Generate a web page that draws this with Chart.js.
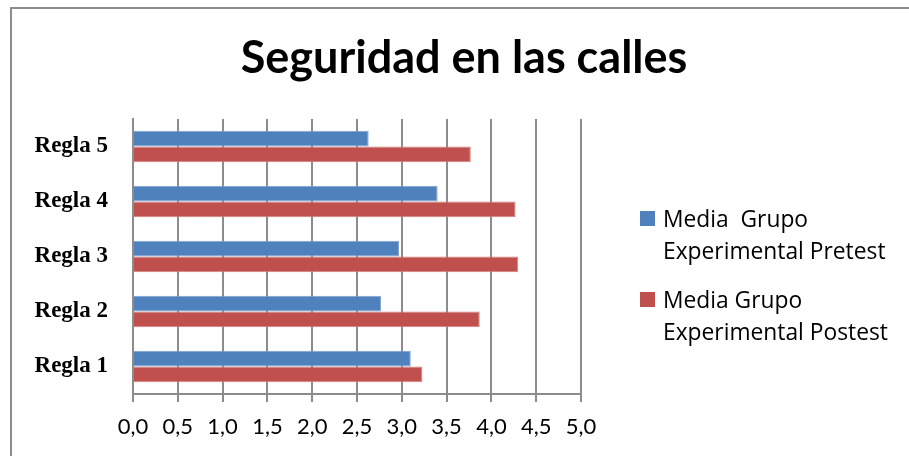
<!DOCTYPE html>
<html>
<head>
<meta charset="utf-8">
<script src="https://cdn.jsdelivr.net/npm/chart.js@4/dist/chart.umd.min.js"></script>
<style>
    body { margin: 0; background: #fff; }
    #wrap { position: relative; width: 909px; height: 456px; overflow: hidden; }
    #frame { position: absolute; left: 10px; top: 7px; width: 1000px; height: 1000px;
             border-left: 2px solid #8c8c8c; border-top: 2px solid #8c8c8c; }
    canvas { position: absolute; left: 0; top: 0; }
</style>
</head>
<body>
<div id="wrap">
    <div id="frame"></div>
    <canvas id="chart" width="909" height="456"></canvas>
</div>
<script>
// Données du graphique
const categories = ['Regla 5', 'Regla 4', 'Regla 3', 'Regla 2', 'Regla 1'];
const pretest = [2.63, 3.40, 2.97, 2.77, 3.10];
const postest = [3.77, 4.27, 4.30, 3.87, 3.23];
const legendLines = [
    ['Media  Grupo', 'Experimental Pretest'],
    ['Media Grupo', 'Experimental Postest']
];
const xTicks = [0, 0.5, 1, 1.5, 2, 2.5, 3, 3.5, 4, 4.5, 5];

const gridColor = '#8c8c8c';

// Légende sur deux lignes, dessinée à droite
const sideLegend = {
    id: 'sideLegend',
    afterDraw(chart) {
        const ctx = chart.ctx;
        ctx.save();
        ctx.font = '22.8px "Open Sans"';
        ctx.textBaseline = 'alphabetic';
        chart.data.datasets.forEach((ds, i) => {
            const top = 211 + i * 81;
            ctx.fillStyle = ds.backgroundColor;
            ctx.fillRect(640, top, 15, 15);
            ctx.fillStyle = '#000';
            legendLines[i].forEach((line, j) => {
                ctx.fillText(line, 663, top + 16 + j * 32);
            });
        });
        ctx.restore();
    }
};

new Chart(document.getElementById('chart'), {
    type: 'bar',
    data: {
        labels: categories,
        datasets: [
            {
                label: legendLines[0].join(' '),
                data: pretest,
                backgroundColor: '#4F81BD',
                borderColor: '#7fa3d2',
                borderWidth: 1,
                categoryPercentage: 0.57,
                barPercentage: 1.0
            },
            {
                label: legendLines[1].join(' '),
                data: postest,
                backgroundColor: '#C0504D',
                borderColor: '#d4817f',
                borderWidth: 1,
                categoryPercentage: 0.57,
                barPercentage: 1.0
            }
        ]
    },
    options: {
        indexAxis: 'y',
        responsive: false,
        animation: false,
        devicePixelRatio: 1,
        layout: { padding: { left: 19, right: 0, top: 0, bottom: 0 } },
        plugins: {
            legend: { display: false },
            tooltip: { enabled: false },
            title: {
                display: true,
                text: 'Seguridad en las calles',
                color: '#000',
                font: { family: 'Lato', size: 45, weight: 'bold', lineHeight: 1.2 },
                padding: { top: 31, bottom: 34 }
            }
        },
        scales: {
            x: {
                min: 0,
                max: 5,
                afterBuildTicks: s => { s.ticks = xTicks.map(v => ({ value: v })); },
                ticks: {
                    color: '#000',
                    font: { family: 'Lato', size: 22 },
                    padding: 12,
                    callback: v => Number(v).toFixed(1).replace('.', ',')
                },
                grid: { color: gridColor, lineWidth: 2, tickLength: 8 },
                border: { color: gridColor, width: 2 },
                afterFit: s => { s.height = 62; }
            },
            y: {
                grid: { display: false },
                border: { display: true, color: gridColor, width: 2 },
                ticks: {
                    color: '#000',
                    font: { family: 'Liberation Serif', size: 23, weight: 'bold' },
                    padding: 17
                },
                afterFit: s => { s.width = 114; }
            },
            y2: {
                position: 'right',
                grid: { display: false },
                border: { display: false },
                ticks: { display: false },
                afterFit: s => { s.width = 328; }
            }
        }
    },
    plugins: [sideLegend]
});
</script>
</body>
</html>
